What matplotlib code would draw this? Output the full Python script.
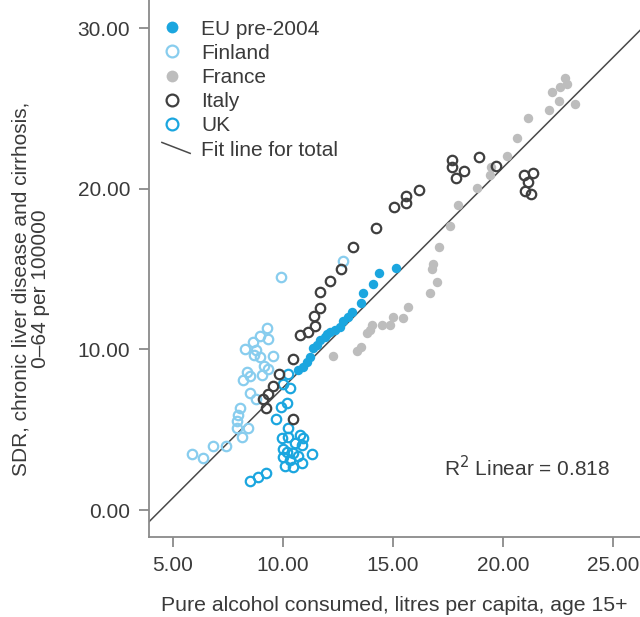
import matplotlib
matplotlib.use("Agg")
import matplotlib.pyplot as plt
from matplotlib.lines import Line2D
from matplotlib.legend_handler import HandlerBase
import numpy as np

plt.rcParams['font.family'] = ['Liberation Sans', 'DejaVu Sans']

# ---- data ----
eu_x = [15.14, 14.36, 14.09, 13.64, 13.55, 13.14, 12.96, 12.73, 12.59, 12.37, 12.14,
        12.01, 11.91, 11.69, 11.55, 11.37, 11.23, 11.10, 10.91, 10.69]
eu_y = [15.07, 14.76, 14.07, 13.51, 12.89, 12.33, 12.02, 11.77, 11.39, 11.21, 11.08,
        10.96, 10.77, 10.59, 10.27, 10.09, 9.53, 9.22, 8.90, 8.72]

fin_x = [9.92, 12.73, 9.28, 8.96, 9.33, 8.64, 8.28, 8.78, 8.69, 8.96, 9.55, 9.14, 9.33,
         9.05, 8.37, 8.19, 8.51, 8.51, 8.78, 8.05, 7.96, 7.92, 7.92, 8.42, 8.15, 7.42,
         6.83, 5.88, 6.38]
fin_y = [14.51, 15.50, 11.33, 10.83, 10.65, 10.46, 10.02, 9.96, 9.65, 9.53, 9.59, 8.97,
         8.78, 8.41, 8.59, 8.09, 8.34, 7.29, 6.91, 6.35, 5.92, 5.54, 5.11, 5.11, 4.55,
         3.99, 3.99, 3.49, 3.24]

fra_x = [22.81, 22.90, 22.58, 22.22, 22.53, 23.26, 22.08, 21.13, 20.63, 20.17, 19.45,
         19.40, 18.81, 17.96, 17.59, 17.09, 16.82, 16.77, 17.00, 16.68, 15.68, 15.45,
         15.00, 14.86, 14.50, 14.05, 13.96, 13.82, 13.55, 13.37, 12.28]
fra_y = [26.90, 26.53, 26.34, 26.03, 25.47, 25.28, 24.91, 24.41, 23.16, 22.04, 21.36,
         20.86, 20.05, 18.99, 17.68, 16.38, 15.32, 15.01, 14.20, 13.51, 12.64, 11.96,
         12.02, 11.52, 11.52, 11.52, 11.21, 11.02, 10.15, 9.90, 9.59]

ita_x = [9.24, 9.10, 9.33, 9.55, 9.83, 10.46, 10.78, 11.14, 11.46, 11.41, 11.69, 11.69,
         12.14, 12.64, 13.18, 14.23, 15.05, 15.59, 15.59, 16.18, 17.68, 17.68, 18.22,
         17.86, 18.90, 19.68, 20.95, 21.36, 21.13, 20.99, 21.26, 10.46]
ita_y = [6.35, 6.91, 7.22, 7.72, 8.47, 9.40, 10.90, 11.08, 11.46, 12.08, 12.58, 13.57,
         14.26, 15.01, 16.38, 17.56, 18.87, 19.12, 19.55, 19.93, 21.79, 21.36, 21.11,
         20.67, 21.98, 21.42, 20.86, 20.98, 20.42, 19.86, 19.68, 5.67]

uk_x = [10.23, 10.01, 10.32, 10.19, 9.92, 9.69, 10.23, 9.96, 10.23, 10.78, 10.91, 10.55,
        10.87, 10.01, 10.46, 10.69, 11.32, 10.01, 10.32, 10.10, 10.46, 10.87, 10.19,
        8.51, 8.87, 9.24]
uk_y = [8.47, 7.85, 7.60, 6.66, 6.41, 5.67, 5.11, 4.48, 4.55, 4.67, 4.48, 4.17, 4.05,
        3.80, 3.55, 3.36, 3.49, 3.30, 3.11, 2.74, 2.68, 2.93, 3.61, 1.81, 2.05, 2.30]

fit_slope = 1.373
fit_intercept = -6.12
r2_text = "R$^2$ Linear = 0.818"

x_ticks = [5, 10, 15, 20, 25]
y_ticks = [0, 10, 20, 30]

# ---- styles ----
c_eu = '#1ba6df'
c_fin = '#88cdee'
c_fra = '#bdbdbd'
c_ita = '#3f3f3f'
c_uk = '#1ba6df'
spine_c = '#8a8a8a'
text_c = '#3a3a3a'
fs = 15

fig = plt.figure(figsize=(6.4, 6.17), dpi=100)
ax = fig.add_axes([149/640, (617-537)/617, (640-149)/640, 537/617])

ms = 6.8
mew = 1.6
ax.plot(fra_x, fra_y, 'o', ms=ms, mfc=c_fra, mec=c_fra, mew=0, ls='none', label='France', zorder=2)
ax.plot(fin_x, fin_y, 'o', ms=ms, mfc='none', mec=c_fin, mew=mew, ls='none', label='Finland', zorder=3)
ax.plot(uk_x, uk_y, 'o', ms=ms, mfc='none', mec=c_uk, mew=mew, ls='none', label='UK', zorder=3)
ax.plot(eu_x, eu_y, 'o', ms=ms, mfc=c_eu, mec=c_eu, mew=0, ls='none', label='EU pre-2004', zorder=4)
ax.plot(ita_x, ita_y, 'o', ms=ms, mfc='none', mec=c_ita, mew=mew, ls='none', label='Italy', zorder=5)

xlim = (3.924, 26.21)
ylim = (-1.68, 31.76)
xx = np.array(xlim)
ax.plot(xx, fit_slope * xx + fit_intercept, '-', color='#4a4a4a', lw=1.1, zorder=1,
        label='Fit line for total')
ax.set_xlim(*xlim)
ax.set_ylim(*ylim)

ax.set_xticks(x_ticks)
ax.set_xticklabels([f"{v:.2f}" for v in x_ticks])
ax.set_yticks(y_ticks)
ax.set_yticklabels([f"{v:.2f}" for v in y_ticks])

for s in ['top', 'right']:
    ax.spines[s].set_visible(False)
for s in ['left', 'bottom']:
    ax.spines[s].set_color(spine_c)
    ax.spines[s].set_linewidth(1.3)
ax.tick_params(axis='both', colors=spine_c, labelcolor=text_c, labelsize=fs,
               length=7.5, width=1.3, direction='out')
ax.tick_params(axis='x', pad=6)
ax.tick_params(axis='y', pad=6)

ax.set_xlabel("Pure alcohol consumed, litres per capita, age 15+", fontsize=15.3,
              color=text_c, labelpad=15)
ax.set_ylabel("SDR, chronic liver disease and cirrhosis,\n0\u201364 per 100000", fontsize=fs,
              color=text_c, linespacing=1.0)
ax.yaxis.set_label_coords(-0.202, 0.462)

ax.text(0.77, 0.13, r2_text, transform=ax.transAxes, ha='center', va='center',
        fontsize=fs, color=text_c)


class HandlerDiag(HandlerBase):
    def create_artists(self, legend, orig_handle, xdescent, ydescent, width, height,
                       fontsize, trans):
        l = Line2D([-xdescent + 0.15 * width, -xdescent + 1.12 * width],
                   [height * 0.9, height * 0.15], color=orig_handle.get_color(),
                   lw=orig_handle.get_linewidth())
        l.set_transform(trans)
        return [l]


h = {l.get_label(): l for l in ax.get_lines()}
order = ['EU pre-2004', 'Finland', 'France', 'Italy', 'UK', 'Fit line for total']
leg = ax.legend([h[k] for k in order], order, loc='upper left',
                bbox_to_anchor=(-0.006, 0.985), frameon=False, fontsize=fs,
                labelspacing=0.25, handlelength=1.4, handletextpad=0.7,
                borderaxespad=0.3, borderpad=0.25, markerscale=1.25,
                handler_map={h['Fit line for total']: HandlerDiag()})
for t in leg.get_texts():
    t.set_color(text_c)

fig.savefig('out.png', dpi=100, facecolor='white')
